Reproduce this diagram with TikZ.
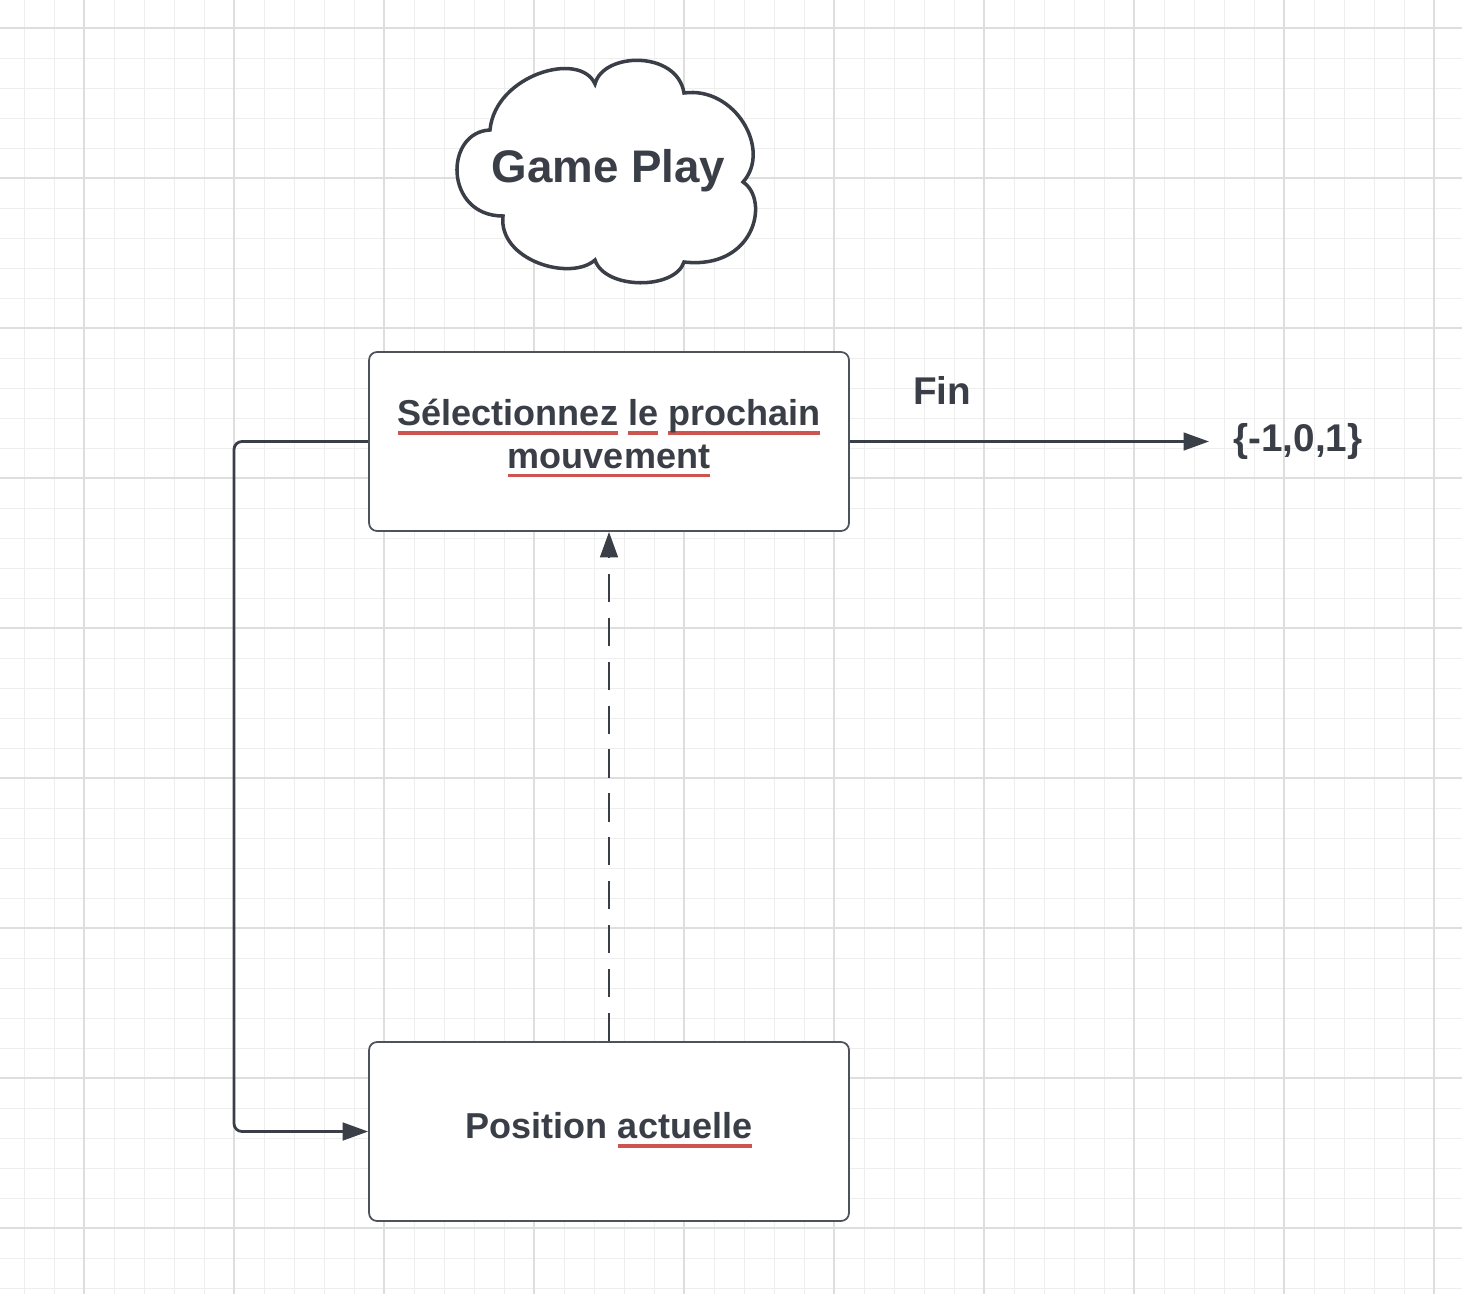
\documentclass[tikz,border=0pt]{standalone}
\usepackage{fontspec}
\setmainfont{Liberation Sans}
\usetikzlibrary{shapes,arrows.meta,positioning}

\definecolor{inkgrey}{RGB}{58,62,71}
\definecolor{boxgrey}{RGB}{78,82,90}
\definecolor{spellred}{RGB}{205,85,80}
\definecolor{gridfine}{RGB}{238,238,238}
\definecolor{gridbold}{RGB}{222,222,222}

% soulignement rouge (correcteur)
\newcommand{\spell}[1]{\setbox0=\hbox{#1}\rlap{\textcolor{spellred}{\rule[-5.4pt]{\wd0}{2pt}}}\box0\relax}

\begin{document}
\begin{tikzpicture}[
    x=0.02cm, y=-0.02cm,
    etape/.style={rectangle, draw=boxgrey, line width=1pt, fill=white, rounded corners=0.16cm, minimum width=9.6cm, minimum height=3.58cm},
    texte/.style={font=\bfseries\fontsize{20.5}{24.4}\selectfont, text=inkgrey, align=center, inner sep=0pt},
    etiquette/.style={font=\bfseries\fontsize{22}{26}\selectfont, text=inkgrey, inner sep=0pt},
    titre/.style={font=\bfseries\fontsize{26}{30}\selectfont, text=inkgrey, inner sep=0pt},
    nuagebord/.style={draw=inkgrey, line width=2pt, fill=white, line join=miter},
    lien/.style={draw=inkgrey, line width=1.6pt, -{Triangle[length=14.5pt, width=10pt]}}
]

    % Fond quadrillé
    \fill[white] (0,0) rectangle (1462,1294);
    \useasboundingbox (0,0) rectangle (1462,1294);
    \foreach \gx in {24,54,...,1434} \draw[gridfine, line width=0.55pt] (\gx,0) -- (\gx,1294);
    \foreach \gy in {28,58,...,1288} \draw[gridfine, line width=0.55pt] (0,\gy) -- (1462,\gy);
    \foreach \gx in {84,234,...,1434} \draw[gridbold, line width=0.6pt] (\gx,0) -- (\gx,1294);
    \foreach \gy in {28,178,...,1228} \draw[gridbold, line width=0.6pt] (0,\gy) -- (1462,\gy);

    % Nuage
    \draw[nuagebord] (490,130) .. controls (495,75) and (580,50) .. (595,84)
        .. controls (603,52) and (677,50) .. (684,93)
        .. controls (735,86) and (772,150) .. (743,182)
        .. controls (770,200) and (755,270) .. (684,262)
        .. controls (675,290) and (605,290) .. (595,260)
        .. controls (570,282) and (498,260) .. (503,216)
        .. controls (444,216) and (444,132) .. cycle;
    \node[titre, anchor=base] (gameplay) at (608.5,182) {Game Play};

    \node[etape] (select) at (609,441.5) {};
    \node[etape] (current) at (609,1131.5) {};

    \node[texte, anchor=base] (selecttxt) at (609,468) {\spell{Sélectionnez} \spell{le} \spell{prochain}\\\spell{mouvement}};
    \node[texte, anchor=base] (currenttxt) at (609,1138) {Position \spell{actuelle}};

    % Labels
    \node[etiquette, anchor=base west] (fin) at (913,404) {Fin};
    \node[etiquette, anchor=base west] (resultat) at (1233,451) {\{-1,0,1\}};

    % Flèches
    \coordinate (loopup) at (234,441.5);
    \coordinate (loopdown) at (234,1131.5);
    \draw[lien, rounded corners=0.16cm] (select.west) -- (loopup) -- (loopdown) -- (current.west);
    \draw[lien, shorten >=0.48cm] (select.east) -- (select.east -| resultat.west);
    \draw[lien, dash pattern=on 16pt off 9pt] (current.north) -- (select.south);

\end{tikzpicture}
\end{document}
